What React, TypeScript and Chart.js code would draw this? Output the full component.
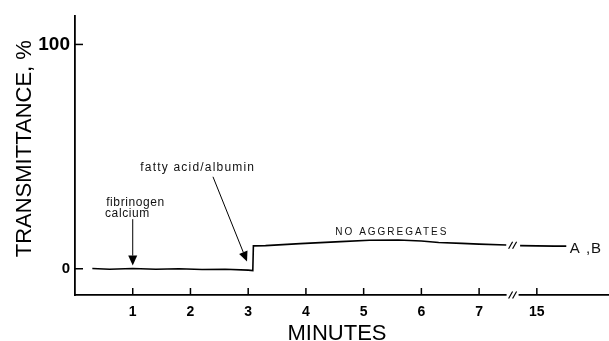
import React, { useEffect, useRef } from "react";
import { Chart, registerables } from "chart.js";

Chart.register(...registerables);

// ---- data ----
const xTickValues = [1, 2, 3, 4, 5, 6, 7, 8];
const xTickLabels = ["1", "2", "3", "4", "5", "6", "7", "15"];
const yTickValues = [0, 100];

const timeBefore = [0.3, 0.6, 1.0, 1.4, 1.8, 2.2, 2.6, 3.0, 3.08, 3.09, 3.3, 3.9, 4.6, 5.1, 5.6, 6.0, 6.3, 6.7, 7.0, 7.47];
const transBefore = [0.1, -0.2, 0.1, -0.2, 0.0, -0.3, -0.2, -0.6, -0.8, 10.2, 10.3, 11.2, 12.1, 12.7, 12.8, 12.4, 11.7, 11.3, 11.0, 10.6];
const timeAfter = [7.71, 8.0, 8.3, 8.51];
const transAfter = [10.3, 10.2, 10.1, 10.1];
const axisBreakAt = 7.58;

const annotationTexts = ["fibrinogen", "calcium", "fatty acid/albumin", "NO AGGREGATES", "A ,B"];
const annotationX = [0.54, 0.52, 1.13, 4.51, 8.57];
const annotationY = [29.3, 24.4, 45.1, 16.4, 8.9];

// arrows: from (x,y) to (x,y)
const arrowFromX = [1.0, 2.39];
const arrowFromY = [22.1, 41.0];
const arrowToX = [1.0, 2.98];
const arrowToY = [1.4, 3.2];

const FONT = "'Liberation Sans', Arial, Helvetica, sans-serif";

const titleShift = {
  id: "titleShift",
  afterLayout(chart: any) {
    const shifts: Record<string, [number, number]> = { x: [-5, 6], y: [2, -7] };
    for (const id of Object.keys(shifts)) {
      const s: any = chart.scales[id];
      if (!s || s._patchedTitle) continue;
      const orig = s.drawTitle.bind(s);
      const [dx, dy] = shifts[id];
      s.drawTitle = (...args: any[]) => {
        const c = s.ctx;
        c.save();
        c.translate(dx, dy);
        orig(...args);
        c.restore();
      };
      s._patchedTitle = true;
    }
  },
};

const overlay = {
  id: "overlay",
  afterDraw(chart: any) {
    const ctx = chart.ctx as CanvasRenderingContext2D;
    const xs = chart.scales.x;
    const ys = chart.scales.y;
    const area = chart.chartArea;
    ctx.save();
    ctx.strokeStyle = "#000";
    ctx.fillStyle = "#000";
    ctx.lineWidth = 1.5;

    // inward tick marks
    for (const v of xTickValues) {
      const px = xs.getPixelForValue(v);
      ctx.beginPath();
      ctx.moveTo(px, area.bottom);
      ctx.lineTo(px, area.bottom - 7);
      ctx.stroke();
    }
    for (const v of yTickValues) {
      const py = ys.getPixelForValue(v);
      ctx.beginPath();
      ctx.moveTo(area.left, py);
      ctx.lineTo(area.left + 8, py);
      ctx.stroke();
    }

    // axis break
    const bx = xs.getPixelForValue(axisBreakAt);
    ctx.fillStyle = "#fff";
    ctx.fillRect(bx - 6, area.bottom - 3, 12, 6);
    ctx.fillStyle = "#000";
    const slashes = (cx: number, cy: number) => {
      ctx.lineWidth = 1.2;
      for (const off of [-2, 2]) {
        ctx.beginPath();
        ctx.moveTo(cx + off - 2, cy + 3.5);
        ctx.lineTo(cx + off + 2, cy - 3.5);
        ctx.stroke();
      }
    };
    slashes(bx, area.bottom);
    const lineY = ys.getPixelForValue((transBefore[transBefore.length - 1] + transAfter[0]) / 2);
    slashes(bx, lineY);

    // arrows
    ctx.lineWidth = 1;
    for (let i = 0; i < arrowFromX.length; i++) {
      const x1 = xs.getPixelForValue(arrowFromX[i]);
      const y1 = ys.getPixelForValue(arrowFromY[i]);
      const x2 = xs.getPixelForValue(arrowToX[i]);
      const y2 = ys.getPixelForValue(arrowToY[i]);
      const ang = Math.atan2(y2 - y1, x2 - x1);
      const hl = 10, hw = 4.5;
      const bxh = x2 - hl * Math.cos(ang);
      const byh = y2 - hl * Math.sin(ang);
      ctx.beginPath();
      ctx.moveTo(x1, y1);
      ctx.lineTo(bxh, byh);
      ctx.stroke();
      ctx.beginPath();
      ctx.moveTo(x2, y2);
      ctx.lineTo(bxh + hw * Math.sin(ang), byh - hw * Math.cos(ang));
      ctx.lineTo(bxh - hw * Math.sin(ang), byh + hw * Math.cos(ang));
      ctx.closePath();
      ctx.fill();
    }

    // annotation texts
    const fonts = [
      `12px ${FONT}`,
      `12px ${FONT}`,
      `12px ${FONT}`,
      `10px ${FONT}`,
      `15px ${FONT}`,
    ];
    const spacing = ["0.6px", "0.6px", "1.2px", "2px", "1px"];
    ctx.textAlign = "left";
    ctx.textBaseline = "middle";
    ctx.fillStyle = "#111";
    for (let i = 0; i < annotationTexts.length; i++) {
      ctx.font = fonts[i];
      (ctx as any).letterSpacing = spacing[i];
      ctx.fillText(annotationTexts[i], xs.getPixelForValue(annotationX[i]), ys.getPixelForValue(annotationY[i]));
    }
    (ctx as any).letterSpacing = "0px";
    ctx.restore();
  },
};

export default function App() {
  const ref = useRef<HTMLCanvasElement | null>(null);
  useEffect(() => {
    if (!ref.current) return;
    const points: any[] = timeBefore.map((t, i) => ({ x: t, y: transBefore[i] }));
    points.push({ x: axisBreakAt, y: null });
    timeAfter.forEach((t, i) => points.push({ x: t, y: transAfter[i] }));

    const chart = new Chart(ref.current, {
      type: "line",
      data: {
        datasets: [
          {
            label: "A,B",
            data: points,
            borderColor: "#000",
            borderWidth: 1.6,
            pointRadius: 0,
            tension: 0,
            spanGaps: false,
            fill: false,
          },
        ],
      },
      options: {
        animation: false,
        responsive: false,
        layout: { padding: { top: 12, left: 0, right: 0, bottom: 0 } },
        plugins: { legend: { display: false }, tooltip: { enabled: false } },
        scales: {
          x: {
            type: "linear",
            min: 0,
            max: 9.25,
            afterBuildTicks: (s: any) => {
              s.ticks = xTickValues.map((v) => ({ value: v }));
            },
            afterFit: (s: any) => {
              s.height = 46;
            },
            ticks: {
              autoSkip: false,
              maxRotation: 0,
              padding: 9,
              color: "#000",
              font: { family: FONT, size: 14, weight: "bold" },
              callback: (v: any) => {
                const i = xTickValues.indexOf(Number(v));
                return i >= 0 ? xTickLabels[i] : "";
              },
            },
            grid: { display: false, drawTicks: false },
            border: { display: true, color: "#000", width: 1.8 },
            title: {
              display: true,
              text: "MINUTES",
              color: "#000",
              font: { family: FONT, size: 22 },
              padding: { top: 0, bottom: 0 },
            },
          },
          y: {
            type: "linear",
            min: -11.7,
            max: 112.5,
            afterBuildTicks: (s: any) => {
              s.ticks = yTickValues.map((v) => ({ value: v }));
            },
            afterFit: (s: any) => {
              s.width = 75;
            },
            ticks: {
              padding: 5,
              color: "#000",
              font: (c: any) => ({
                family: FONT,
                size: c.tick && c.tick.value === 100 ? 19 : 15,
                weight: "bold",
              }),
              callback: (v: any) => String(v),
            },
            grid: { display: false, drawTicks: false },
            border: { display: true, color: "#000", width: 1.8 },
            title: {
              display: true,
              text: "TRANSMITTANCE, %",
              color: "#000",
              font: { family: FONT, size: 22 },
              padding: { top: 10, bottom: 0 },
            },
          },
        },
      },
      plugins: [titleShift, overlay],
    } as any);
    return () => chart.destroy();
  }, []);

  return (
    <div style={{ position: "fixed", left: 0, top: 0, width: 609, height: 341, background: "#fff" }}>
      <canvas ref={ref} width={609} height={341} style={{ display: "block" }} />
    </div>
  );
}
